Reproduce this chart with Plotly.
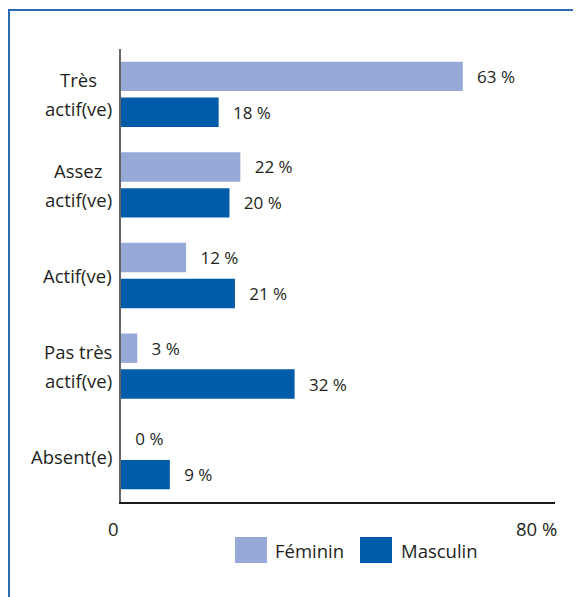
import plotly.graph_objects as go

# data
categories = ["Très<br>actif(ve)", "Assez<br>actif(ve)", "Actif(ve)", "Pas très<br>actif(ve)", "Absent(e)"]
feminin = [63, 22, 12, 3, 0]
masculin = [18, 20, 21, 32, 9]
series_names = ["Féminin", "Masculin"]
x_ticks = [0, 80]
x_tick_text = ["0", "80 %"]

COL_F = "#97a9d7"
COL_M = "#005ca9"
TXT = "#231f20"
FONT = "Open Sans"

# the page body has an 8px margin, so the figure is drawn 8px smaller
# and everything is measured in page pixels minus that offset
OFF = 8
W, H = 581 - OFF, 597 - OFF
L, T = 121 - OFF, 49 - OFF
PW, PH = 434, 453
R, B = W - L - PW, H - T - PH


def px_x(px):
    return (px - OFF - L) / PW


def px_y(py):
    return (T + PH - (py - OFF)) / PH


fig = go.Figure()
for name, vals, col in [(series_names[0], feminin, COL_F), (series_names[1], masculin, COL_M)]:
    fig.add_trace(
        go.Bar(
            y=categories,
            x=vals,
            name=name,
            orientation="h",
            marker=dict(color=col, line=dict(width=0)),
            text=[f"\u2002\u2009{v} %" for v in vals],
            textposition="outside",
            textfont=dict(family=FONT, size=17, color=TXT),
            constraintext="none",
            cliponaxis=False,
            showlegend=False,
            hoverinfo="skip",
        )
    )

annotations = []
# category labels, one annotation per line to get the wider line spacing
for cat in categories:
    lines = cat.split("<br>")
    if len(lines) == 1:
        annotations.append(dict(
            x=0, y=cat, xref="x", yref="y", text=lines[0], showarrow=False,
            xanchor="right", yanchor="middle", xshift=-7,
            font=dict(family=FONT, size=18.5, color=TXT),
        ))
    else:
        for i, ln in enumerate(lines):
            annotations.append(dict(
                x=0, y=cat, xref="x", yref="y", text=ln, showarrow=False,
                xanchor="center", yanchor="middle", xshift=-43,
                yshift=14.5 if i == 0 else -14.5,
                font=dict(family=FONT, size=18.5, color=TXT),
            ))

# x tick labels, right aligned on their tick
for v, t in zip(x_ticks, x_tick_text):
    annotations.append(dict(
        x=v, y=0, xref="x", yref="paper", text=t, showarrow=False,
        xanchor="right", yanchor="top", yshift=-12, xshift=4 if v else 0,
        font=dict(family=FONT, size=18.5, color=TXT),
    ))

# legend (drawn by hand to get the big swatches)
shapes = []
for name, col, sx, tx in [(series_names[0], COL_F, 235, 273), (series_names[1], COL_M, 360, 399)]:
    shapes.append(dict(
        type="rect", xref="paper", yref="paper",
        x0=px_x(sx), x1=px_x(sx + 32), y0=px_y(563), y1=px_y(537),
        fillcolor=col, line=dict(width=0),
    ))
    annotations.append(dict(
        x=px_x(tx), y=px_y(550), xref="paper", yref="paper", text=name,
        showarrow=False, xanchor="left", yanchor="middle",
        font=dict(family=FONT, size=18.5, color=TXT),
    ))

# frame around the figure
shapes.append(dict(
    type="rect", xref="paper", yref="paper",
    x0=px_x(9), x1=px_x(581 + 20), y0=px_y(597 + 20), y1=px_y(10),
    line=dict(color="#2d6ab4", width=2), fillcolor="rgba(0,0,0,0)", layer="below",
))

fig.update_layout(
    width=W,
    height=H,
    margin=dict(l=L, r=R, t=T, b=B),
    paper_bgcolor="white",
    plot_bgcolor="white",
    barmode="group",
    bargap=0.208,
    bargroupgap=0.18,
    font=dict(family=FONT, color=TXT),
    xaxis=dict(
        range=[0, 80],
        showgrid=False,
        zeroline=False,
        showticklabels=False,
        ticks="",
        showline=True,
        linecolor="#1a1a1a",
        linewidth=2,
        fixedrange=True,
    ),
    yaxis=dict(
        autorange="reversed",
        showgrid=False,
        zeroline=False,
        showticklabels=False,
        ticks="",
        showline=True,
        linecolor="#666666",
        linewidth=2,
        fixedrange=True,
    ),
    annotations=annotations,
    shapes=shapes,
)

fig.write_html("out.html")
